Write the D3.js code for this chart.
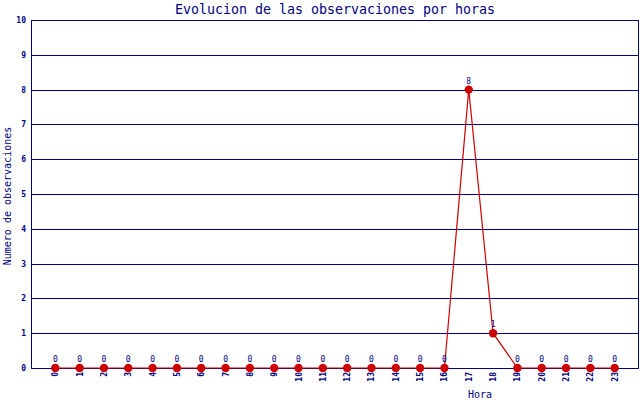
<!DOCTYPE html>
<html>
<head>
<meta charset="utf-8">
<script src="https://cdn.jsdelivr.net/npm/d3@7"></script>
<style>
  body { margin: 0; background: #fff; }
  text { font-family: 'DejaVu Sans Mono', monospace; fill: #000080; }
</style>
</head>
<body>
<div id="chart"></div>
<script>
// observations per hour
let horas = d3.range(0, 24)
let valores = [0, 0, 0, 0, 0, 0, 0, 0, 0, 0, 0, 0, 0, 0, 0, 0, 0, 8, 1, 0, 0, 0, 0, 0]
let yTicks = [0, 1, 2, 3, 4, 5, 6, 7, 8, 9, 10]

let width = 640
let height = 400
let margin = { top: 20, right: 1, bottom: 32, left: 31 }

let navy = '#000080'
let red = '#cc0000'

let svg = d3.select('#chart')
  .append('svg')
  .attr('width', width)
  .attr('height', height)

let x = d3.scaleLinear()
  .domain([-1, 24])
  .range([margin.left, width - margin.right])

let y = d3.scaleLinear()
  .domain([0, 10])
  .range([height - margin.bottom, margin.top])

// grid lines
svg.append('g')
  .selectAll('line')
  .data(yTicks)
  .enter()
  .append('line')
  .attr('x1', x(-1))
  .attr('x2', x(24))
  .attr('y1', d => Math.round(y(d)) + 0.5)
  .attr('y2', d => Math.round(y(d)) + 0.5)
  .attr('stroke', navy)
  .attr('stroke-width', 1)

// left and right frame
svg.append('line')
  .attr('x1', x(-1) + 0.5).attr('x2', x(-1) + 0.5)
  .attr('y1', y(10)).attr('y2', y(0) + 1)
  .attr('stroke', navy)
svg.append('line')
  .attr('x1', x(24) - 0.5).attr('x2', x(24) - 0.5)
  .attr('y1', y(10)).attr('y2', y(0) + 1)
  .attr('stroke', navy)

// y tick labels
svg.append('g')
  .selectAll('text')
  .data(yTicks)
  .enter()
  .append('text')
  .attr('x', x(-1) - 5)
  .attr('y', d => y(d) + 3)
  .attr('text-anchor', 'end')
  .attr('font-size', 8)
  .attr('font-weight', 'bold')
  .text(d => d)

// x tick labels (rotated, reading upwards)
svg.append('g')
  .selectAll('text')
  .data(horas)
  .enter()
  .append('text')
  .attr('transform', d => `translate(${x(d) + 3}, ${y(0) + 4}) rotate(-90)`)
  .attr('text-anchor', 'end')
  .attr('font-size', 8)
  .attr('font-weight', 'bold')
  .text(d => d)

// the line
let line = d3.line()
  .x((d, i) => x(horas[i]))
  .y(d => y(d))

svg.append('path')
  .datum(valores)
  .attr('d', line)
  .attr('fill', 'none')
  .attr('stroke', red)
  .attr('stroke-width', 1.2)

svg.append('g')
  .selectAll('circle')
  .data(valores)
  .enter()
  .append('circle')
  .attr('cx', (d, i) => x(horas[i]))
  .attr('cy', d => y(d))
  .attr('r', 4.2)
  .attr('fill', red)

// value labels
svg.append('g')
  .selectAll('text')
  .data(valores)
  .enter()
  .append('text')
  .attr('x', (d, i) => x(horas[i]))
  .attr('y', d => y(d) - 6)
  .attr('text-anchor', 'middle')
  .attr('font-size', 8)
  .text(d => d)

// title and axis labels
svg.append('text')
  .attr('x', 335)
  .attr('y', 14)
  .attr('text-anchor', 'middle')
  .attr('font-size', 13.3)
  .text('Evolucion de las observaciones por horas')

svg.append('text')
  .attr('transform', `translate(11, ${y(5) + 2}) rotate(-90)`)
  .attr('text-anchor', 'middle')
  .attr('font-size', 10)
  .text('Numero de observaciones')

svg.append('text')
  .attr('x', 480)
  .attr('y', 398)
  .attr('text-anchor', 'middle')
  .attr('font-size', 10)
  .text('Hora')
</script>
</body>
</html>
